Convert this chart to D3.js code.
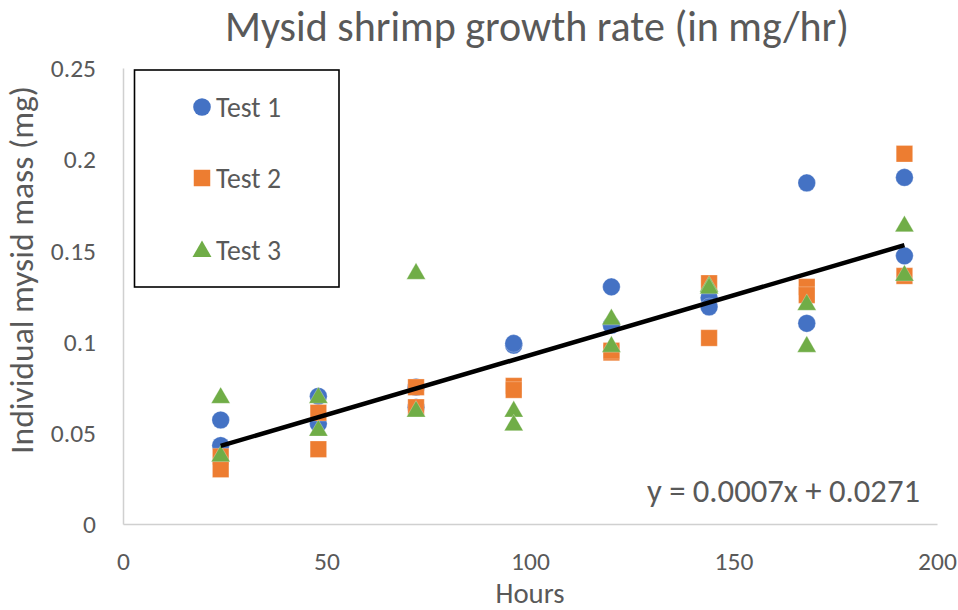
<!DOCTYPE html>
<html>
<head>
<meta charset="utf-8">
<script src="https://cdn.jsdelivr.net/npm/d3@7/dist/d3.min.js"></script>
<style>
  html, body { margin: 0; padding: 0; background: #fff; }
  svg { display: block; }
  text { font-family: Carlito, Calibri, Lato, "Open Sans", sans-serif; fill: #595959; }
</style>
</head>
<body>
<svg id="chart" width="958" height="610"></svg>
<script>
// Sampling times (hours)
const hours = [24, 48, 72, 96, 120, 144, 168, 192];

// Two replicate masses (mg) per sampling time for each test
const test1 = [
  [0.057, 0.043], [0.070, 0.055], [0.075, 0.064], [0.098, 0.099],
  [0.130, 0.109], [0.124, 0.119], [0.187, 0.110], [0.190, 0.147]
];
const test2 = [
  [0.037, 0.030], [0.061, 0.041], [0.075, 0.064], [0.0757, 0.0735],
  [0.094, 0.095], [0.132, 0.102], [0.130, 0.1255], [0.203, 0.136]
];
const test3 = [
  [0.070, 0.038], [0.070, 0.052], [0.138, 0.0625], [0.0625, 0.055],
  [0.113, 0.098], [0.131, 0.130], [0.121, 0.098], [0.164, 0.137]
];

const seriesNames = ["Test 1", "Test 2", "Test 3"];
const seriesColors = ["#4472C4", "#ED7D31", "#70AD47"];

// Linear trendline coefficients
const trendSlope = 0.000655;
const trendIntercept = 0.0271;

const xTicks = [0, 50, 100, 150, 200];
const yTicks = [0, 0.05, 0.1, 0.15, 0.2, 0.25];

const svg = d3.select("#chart");

const x = d3.scaleLinear().domain([0, 200]).range([123, 937]);
const y = d3.scaleLinear().domain([0, 0.25]).range([524, 68]);

// Scale a text element's font so its rendered width equals `w`
function fitWidth(sel, w) {
  const node = sel.node();
  const fs = parseFloat(sel.attr("font-size"));
  const len = node.getComputedTextLength();
  if (len > 0) sel.attr("font-size", (fs * w / len).toFixed(2));
  return sel;
}

// Axes (lines only, labels drawn through the axis generators)
const xAxis = d3.axisBottom(x).tickValues(xTicks).tickSize(0).tickPadding(30).tickFormat(d3.format("d"));
const yAxis = d3.axisLeft(y).tickValues(yTicks).tickSize(0).tickPadding(27).tickFormat(d => d === 0 ? "0" : String(+d.toFixed(2)));

const gx = svg.append("g").attr("transform", `translate(0,${y(0)})`).call(xAxis);
const gy = svg.append("g").attr("transform", `translate(${x(0)},0)`).call(yAxis);

[gx, gy].forEach(g => {
  g.select(".domain").attr("stroke", "#d0d0d0").attr("stroke-width", 1.5);
  g.selectAll(".tick text")
    .attr("fill", "#595959")
    .style("font-family", "Carlito, Calibri, Lato, 'Open Sans', sans-serif")
    .attr("font-size", 25.5);
});
gx.selectAll(".tick text").attr("dy", "0.32em").attr("y", 38);
gy.selectAll(".tick text").attr("dy", "0.34em");

// Markers
const symbolTypes = [d3.symbolCircle, d3.symbolSquare, d3.symbolTriangle];
const symbolSizes = [245, 272, 155];
const allSeries = [test1, test2, test3];

allSeries.forEach((series, si) => {
  const pts = [];
  series.forEach((reps, i) => reps.forEach(v => pts.push({ h: hours[i], v })));
  svg.append("g").selectAll("path")
    .data(pts)
    .join("path")
    .attr("transform", d => `translate(${x(d.h)},${y(d.v) + (si === 2 ? 1.5 : 0)})`)
    .attr("d", d3.symbol().type(symbolTypes[si]).size(symbolSizes[si]))
    .attr("fill", seriesColors[si])
    .attr("stroke", "rgba(255,255,255,0.35)")
    .attr("stroke-width", 0.8);
});

// Trendline over the sampled range
const trendX = [hours[0], hours[hours.length - 1]];
svg.append("path")
  .datum(trendX)
  .attr("d", d3.line().x(d => x(d)).y(d => y(trendIntercept + trendSlope * d)))
  .attr("stroke", "#000")
  .attr("stroke-width", 4.5)
  .attr("fill", "none");

// Trendline equation
const eq = svg.append("text")
  .attr("x", 647).attr("y", 502)
  .attr("font-size", 26)
  .text(`y = ${trendSlope.toFixed(4)}x + ${trendIntercept.toFixed(4)}`);
fitWidth(eq, 273);

// Title
const title = svg.append("text")
  .attr("x", 537).attr("y", 41)
  .attr("text-anchor", "middle")
  .attr("font-size", 38)
  .text("Mysid shrimp growth rate (in mg/hr)");
fitWidth(title, 624);

// Axis titles
const xt = svg.append("text")
  .attr("x", 530).attr("y", 603)
  .attr("text-anchor", "middle")
  .attr("font-size", 26)
  .text("Hours");
fitWidth(xt, 69);

const yt = svg.append("text")
  .attr("transform", "translate(33,270) rotate(-90)")
  .attr("text-anchor", "middle")
  .attr("font-size", 26)
  .text("Individual mysid mass (mg)");
fitWidth(yt, 368);

// Legend
const legend = svg.append("g");
legend.append("rect")
  .attr("x", 134.5).attr("y", 70).attr("width", 204.5).attr("height", 217)
  .attr("fill", "#fff").attr("stroke", "#000").attr("stroke-width", 1.6);

const legendY = [107, 178, 250];
seriesNames.forEach((name, si) => {
  legend.append("path")
    .attr("transform", `translate(202,${legendY[si] + (si === 2 ? 1.5 : 0)})`)
    .attr("d", d3.symbol().type(symbolTypes[si]).size(symbolSizes[si]))
    .attr("fill", seriesColors[si]);
  const t = legend.append("text")
    .attr("x", 216).attr("y", legendY[si])
    .attr("dy", "0.36em")
    .attr("font-size", 24)
    .text(name);
  fitWidth(t, 65);
});
</script>
</body>
</html>
